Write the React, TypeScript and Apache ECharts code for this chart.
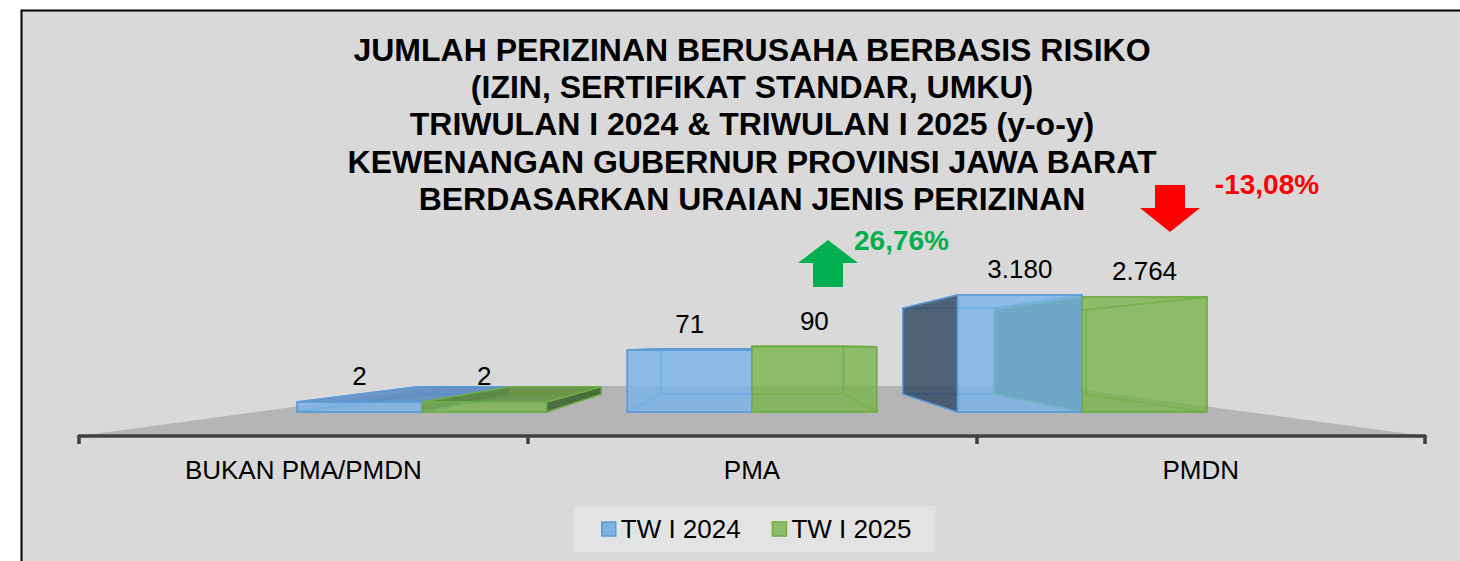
import React, { useEffect, useRef } from 'react';
import * as echarts from 'echarts';

const categories = ['BUKAN PMA/PMDN', 'PMA', 'PMDN'];
const seriesNames = ['TW I 2024', 'TW I 2025'];
const tw2024 = [2, 71, 3180];
const tw2025 = [2, 90, 2764];
const titleLines = [
  'JUMLAH PERIZINAN BERUSAHA BERBASIS RISIKO',
  '(IZIN, SERTIFIKAT STANDAR, UMKU)',
  'TRIWULAN I 2024 & TRIWULAN I 2025 (y-o-y)',
  'KEWENANGAN GUBERNUR PROVINSI JAWA BARAT',
  'BERDASARKAN URAIAN JENIS PERIZINAN',
];

const FONT = "'Liberation Sans', Arial, Helvetica, sans-serif";
const W = 1460;
const H = 561;
const GRID = { left: 79, right: 35, top: 254.4, bottom: 125 };
const DEPTH_FRONT = 0.264;
const DEPTH_BACK = 0.46;
const DEPTH_FLOOR = 0.55;
const VP_RISE = 91;
const BAR_FRACTION = 0.3775;

const palettes = [
  { stroke: '#5b9bd5', front: 'rgba(120,180,233,0.8)', top: 'rgba(90,140,195,0.85)', side: 'rgba(55,76,102,0.85)', legend: '#7fb0de' },
  { stroke: '#70ad47', front: 'rgba(121,180,78,0.8)', top: 'rgba(95,145,62,0.85)', side: 'rgba(60,100,45,0.88)', legend: '#8fbd6c' },
];

const fmtNum = (v: number) => String(v).replace(/\B(?=(\d{3})+(?!\d))/g, '.');
const fmtPct = (a: number, b: number) => {
  const p = (b / a - 1) * 100;
  return (p < 0 ? '-' : '') + Math.abs(p).toFixed(2).replace('.', ',') + '%';
};

function makeRenderItem(si: number) {
  const pal = palettes[si];
  return (params: any, api: any) => {
    const c = api.value(0);
    const v = api.value(1);
    const cs = params.coordSys;
    const vpx = cs.x + cs.width / 2;
    const base = api.coord([c, 1])[1];
    const vpy = base - VP_RISE;
    const pt = api.coord([c, v]);
    const cx = pt[0];
    const topY = pt[1];
    const bw = api.size([1, 0])[0] * BAR_FRACTION;
    const x0 = si === 0 ? cx - bw : cx;
    const x1 = x0 + bw;
    const P = (x: number, y: number, f: number) => [x + f * (vpx - x), y + f * (vpy - y)];
    const fbl = P(x0, base, DEPTH_FRONT), fbr = P(x1, base, DEPTH_FRONT);
    const ftl = P(x0, topY, DEPTH_FRONT), ftr = P(x1, topY, DEPTH_FRONT);
    const bbl = P(x0, base, DEPTH_BACK), bbr = P(x1, base, DEPTH_BACK);
    const btl = P(x0, topY, DEPTH_BACK), btr = P(x1, topY, DEPTH_BACK);
    const poly = (pts: number[][], fill: string, z2: number) => ({
      type: 'polygon',
      shape: { points: pts },
      style: { stroke: pal.stroke, lineWidth: 1.5, lineJoin: 'round', fill },
      z2,
      silent: true,
    });
    const children: any[] = [];
    children.push(poly([bbl, bbr, btr, btl], 'none', 1));
    children.push(poly([fbl, fbr, bbr, bbl], 'none', 1));
    const leftVis = bbl[0] < fbl[0];
    children.push(poly([fbl, bbl, btl, ftl], leftVis ? pal.side : 'none', leftVis ? 2 : 1));
    const rightVis = bbr[0] > fbr[0];
    children.push(poly([fbr, bbr, btr, ftr], rightVis ? pal.side : 'none', rightVis ? 2 : 1));
    const topVis = btl[1] < ftl[1];
    children.push(poly([ftl, ftr, btr, btl], topVis ? pal.top : 'none', topVis ? 2 : 1));
    children.push(poly([fbl, fbr, ftr, ftl], pal.front, 3));
    children.push({
      type: 'text',
      x: (ftl[0] + ftr[0]) / 2,
      y: ftl[1] - 26,
      z2: 10,
      silent: true,
      style: { text: fmtNum(v), fontSize: 26, fontFamily: FONT, fill: '#000', align: 'center', verticalAlign: 'middle' },
    });
    return { type: 'group', children };
  };
}

export default function App() {
  const ref = useRef<HTMLDivElement>(null);
  useEffect(() => {
    if (!ref.current) return;
    const chart = echarts.init(ref.current, undefined, { renderer: 'svg' });

    const gx0 = GRID.left;
    const gx1 = W - GRID.right;
    const base = H - GRID.bottom;
    const vpx = gx0 + (gx1 - gx0) / 2;
    const vpy = base - VP_RISE;
    const back = (x: number, y: number) => [x + DEPTH_FLOOR * (vpx - x), y + DEPTH_FLOOR * (vpy - y)];
    const floorPts = [[gx0, base], [gx1, base], back(gx1, base), back(gx0, base)];

    const seriesData = [tw2024, tw2025];

    const graphic: any[] = [
      {
        type: 'rect', z: -10, silent: true,
        shape: { x: 21.5, y: 10.5, width: 1500, height: 600 },
        style: { fill: '#d9d9d9', stroke: '#000', lineWidth: 2 },
      },
      {
        type: 'polygon', z: -5, silent: true,
        shape: { points: floorPts },
        style: { fill: '#b5b5b5' },
      },
      ...titleLines.map((t, i) => ({
        type: 'text', x: vpx, y: 49.5 + i * 37.4, z: 5, silent: true,
        style: { text: t, fontSize: 32, fontWeight: 'bold', fontFamily: FONT, fill: '#000', align: 'center', verticalAlign: 'middle' },
      })),
      {
        type: 'polygon', z: 5, silent: true,
        shape: { points: [[828, 240], [858, 263], [843, 263], [843, 287], [813, 287], [813, 263], [798, 263]] },
        style: { fill: '#00b050' },
      },
      {
        type: 'polygon', z: 5, silent: true,
        shape: { points: [[1155, 185], [1185, 185], [1185, 208], [1200, 208], [1170, 232], [1140, 208], [1155, 208]] },
        style: { fill: '#ff0000' },
      },
      {
        type: 'text', x: 901.5, y: 240, z: 5, silent: true,
        style: { text: fmtPct(tw2024[1], tw2025[1]), fontSize: 28, fontWeight: 'bold', fontFamily: FONT, fill: '#00b050', align: 'center', verticalAlign: 'middle' },
      },
      {
        type: 'text', x: 1267, y: 184, z: 5, silent: true,
        style: { text: fmtPct(tw2024[2], tw2025[2]), fontSize: 28, fontWeight: 'bold', fontFamily: FONT, fill: '#ff0000', align: 'center', verticalAlign: 'middle' },
      },
    ];

    chart.setOption({
      animation: false,
      backgroundColor: 'transparent',
      textStyle: { fontFamily: FONT },
      grid: { left: GRID.left, right: GRID.right, top: GRID.top, bottom: GRID.bottom, containLabel: false },
      legend: {
        data: seriesNames.map((n, i) => ({
          name: n,
          itemStyle: { color: palettes[i].legend, borderColor: palettes[i].stroke, borderWidth: 1.5 },
        })),
        left: 574,
        top: 506,
        orient: 'horizontal',
        icon: 'rect',
        itemWidth: 14,
        itemHeight: 14,
        itemGap: 31,
        padding: [10, 24, 10, 27],
        backgroundColor: '#e3e3e3',
        selectedMode: false,
        textStyle: { fontSize: 26, fontFamily: FONT, color: '#000' },
      },
      xAxis: {
        type: 'category',
        data: categories,
        boundaryGap: true,
        axisLine: { show: true, lineStyle: { color: '#404040', width: 3.5 } },
        axisTick: { show: true, length: 8, lineStyle: { color: '#404040', width: 3.5 } },
        axisLabel: { fontSize: 26, fontFamily: FONT, color: '#000', margin: 21 },
        splitLine: { show: false },
      },
      yAxis: {
        type: 'log',
        logBase: 10,
        min: 1,
        max: 10000,
        show: false,
      },
      series: seriesNames.map((n, si) => ({
        type: 'custom',
        name: n,
        data: seriesData[si].map((v, i) => [i, v]),
        encode: { x: 0, y: 1 },
        itemStyle: { color: palettes[si].legend, borderColor: palettes[si].stroke },
        renderItem: makeRenderItem(si),
        silent: true,
      })),
      graphic,
    });
    return () => chart.dispose();
  }, []);
  return (
    <div
      ref={ref}
      style={{ position: 'absolute', left: 0, top: 0, width: W, height: H, background: '#fff' }}
    />
  );
}
